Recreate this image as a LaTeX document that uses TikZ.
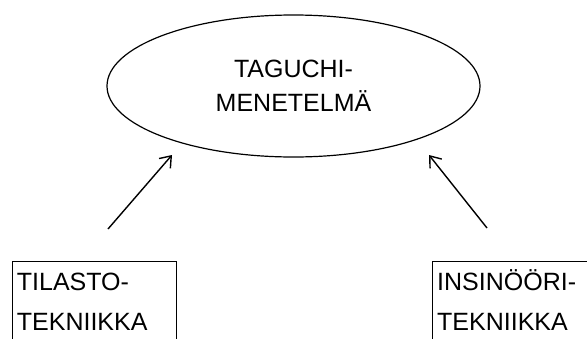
\documentclass[tikz,border=0pt]{standalone}
\usepackage{fontspec}
\setmainfont{Liberation Sans}
\usetikzlibrary{shapes.geometric,arrows.meta}

\begin{document}
\begin{tikzpicture}[x=1pt,y=-1pt,
    method/.style={ellipse, draw, line width=1.2pt, minimum width=373pt, minimum height=142pt, inner sep=0pt, align=center, font=\fontsize{25}{34}\selectfont},
    field/.style={rectangle, draw, line width=1.2pt, minimum width=164pt, minimum height=120pt, anchor=north west},
    fieldtext/.style={anchor=base west, inner sep=0pt, font=\fontsize{25}{30}\selectfont},
    >={Straight Barb[length=10pt,width=15pt]}]
  \useasboundingbox (0,0) rectangle (587,338);
  \node[method] (taguchi) at (293.5,86) {TAGUCHI-\\MENETELMÄ};
  \node[field] (tilasto) at (11.7,260.7) {};
  \node[field, minimum width=200pt] (insinoori) at (432,260.7) {};
  \node[fieldtext] (tilasto1) at (16.7,290) {TILASTO-};
  \node[fieldtext] (tilasto2) at (16.7,330) {TEKNIIKKA};
  \node[fieldtext] (insinoori1) at (437,290) {INSINÖÖRI-};
  \node[fieldtext] (insinoori2) at (437,330) {TEKNIIKKA};
  % arrow ends
  \coordinate (lfrom) at (108,229);
  \coordinate (lto) at (172,155);
  \coordinate (rfrom) at (487,228);
  \coordinate (rto) at (429,155);
  \draw[->, line width=1.4pt] (lfrom) -- (lto);
  \draw[->, line width=1.4pt] (rfrom) -- (rto);
\end{tikzpicture}
\end{document}
